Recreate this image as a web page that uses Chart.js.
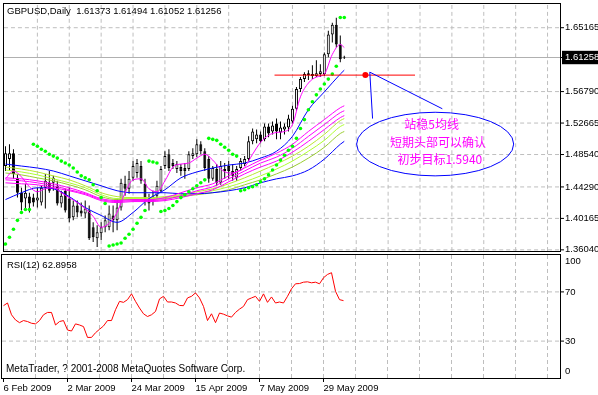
<!DOCTYPE html>
<html><head><meta charset="utf-8">
<script src="https://cdn.jsdelivr.net/npm/chart.js@4/dist/chart.umd.min.js"></script>
<style>
html,body{margin:0;padding:0;background:#fff;}
#wrap{position:relative;width:598px;height:395px;overflow:hidden;background:#fff;}
#c1{position:absolute;left:0;top:0;}
#c2{position:absolute;left:0;top:253px;}
</style></head><body>
<div id="wrap"><canvas id="c1" width="598" height="260"></canvas><canvas id="c2" width="598" height="142"></canvas></div>
<script>
// ---------------- data ----------------
const symbol = 'GBPUSD', period = 'Daily';
const opens  = [1.4703,1.4794,1.4871,1.4548,1.4353,1.4276,1.4302,1.4289,1.4250,1.4224,1.4418,1.4483,1.4483,1.4444,1.4211,1.4379,1.4276,1.4030,1.4185,1.4120,1.4081,1.4120,1.3900,1.3757,1.3822,1.3900,1.3900,1.4055,1.3991,1.4159,1.4470,1.4405,1.4548,1.4612,1.4703,1.4470,1.4276,1.4250,1.4314,1.4379,1.4703,1.4858,1.4742,1.4664,1.4690,1.4677,1.4664,1.4833,1.4858,1.4988,1.4897,1.4794,1.4535,1.4664,1.4483,1.4638,1.4703,1.4638,1.4548,1.4677,1.4729,1.4794,1.5027,1.5053,1.5118,1.5053,1.5221,1.5156,1.5260,1.5143,1.5182,1.5208,1.5286,1.5454,1.5713,1.5843,1.5921,1.5908,1.5882,1.5908,1.5908,1.6167,1.6426,1.6555,1.6296,1.61373];
const highs  = [1.4962,1.4988,1.4923,1.4600,1.4418,1.4470,1.4353,1.4340,1.4418,1.4444,1.4600,1.4638,1.4574,1.4509,1.4379,1.4405,1.4418,1.4250,1.4250,1.4224,1.4250,1.4185,1.3965,1.3926,1.3965,1.4055,1.4185,1.4185,1.4276,1.4535,1.4574,1.4638,1.4768,1.4794,1.4768,1.4535,1.4340,1.4379,1.4509,1.4703,1.4897,1.4923,1.4794,1.4768,1.4729,1.4742,1.4897,1.4936,1.5053,1.5027,1.4936,1.4833,1.4703,1.4729,1.4768,1.4742,1.4768,1.4729,1.4703,1.4807,1.4833,1.5092,1.5195,1.5182,1.5156,1.5260,1.5260,1.5286,1.5325,1.5286,1.5260,1.5377,1.5493,1.5739,1.5869,1.5934,1.5960,1.6024,1.6089,1.6037,1.6193,1.6478,1.6581,1.6646,1.6413,1.61494];
const lows   = [1.4638,1.4638,1.4535,1.4289,1.4120,1.4146,1.4094,1.4172,1.4159,1.4185,1.4146,1.4353,1.4379,1.4185,1.4159,1.4094,1.3965,1.3991,1.4030,1.4042,1.4017,1.3732,1.3706,1.3641,1.3732,1.3835,1.3861,1.3835,1.3861,1.4120,1.4314,1.4340,1.4509,1.4548,1.4470,1.4185,1.4120,1.4185,1.4276,1.4353,1.4664,1.4638,1.4664,1.4612,1.4574,1.4535,1.4638,1.4794,1.4820,1.4858,1.4638,1.4483,1.4509,1.4444,1.4457,1.4535,1.4535,1.4509,1.4509,1.4638,1.4703,1.4768,1.4988,1.5001,1.5001,1.5027,1.5079,1.5118,1.5053,1.5053,1.5118,1.5156,1.5260,1.5428,1.5675,1.5804,1.5830,1.5843,1.5869,1.5869,1.5882,1.6128,1.6322,1.6257,1.6063,1.61052];
const closes = [1.4871,1.4871,1.4600,1.4353,1.4224,1.4353,1.4211,1.4224,1.4289,1.4418,1.4509,1.4379,1.4548,1.4211,1.4314,1.4120,1.4017,1.4185,1.4094,1.4081,1.4146,1.3757,1.3770,1.3835,1.3900,1.3991,1.4081,1.3991,1.4159,1.4483,1.4405,1.4535,1.4703,1.4742,1.4509,1.4250,1.4211,1.4302,1.4444,1.4664,1.4833,1.4677,1.4703,1.4729,1.4638,1.4638,1.4858,1.4871,1.4988,1.4897,1.4677,1.4535,1.4677,1.4483,1.4703,1.4664,1.4638,1.4574,1.4664,1.4768,1.4794,1.5027,1.5156,1.5118,1.5027,1.5221,1.5130,1.5234,1.5156,1.5208,1.5221,1.5325,1.5454,1.5713,1.5843,1.5908,1.5895,1.5882,1.5921,1.5947,1.6167,1.6426,1.6555,1.6296,1.6102,1.61256];
const sar    = [1.3680,1.3770,1.3874,1.3991,1.4094,1.4133,1.4133,1.4988,1.4962,1.4923,1.4897,1.4858,1.4833,1.4807,1.4768,1.4742,1.4716,1.4677,1.4625,1.4574,1.4548,1.4522,1.4457,1.4379,1.4289,1.4211,1.3654,1.3667,1.3680,1.3693,1.3757,1.3809,1.3874,1.3952,1.4030,1.4120,1.4768,1.4755,1.4742,1.4107,1.4120,1.4146,1.4185,1.4237,1.4289,1.4327,1.4366,1.4405,1.4444,1.4483,1.4522,1.5066,1.5053,1.5040,1.4988,1.4949,1.4910,1.4858,1.4833,1.4379,1.4392,1.4418,1.4431,1.4457,1.4496,1.4535,1.4587,1.4651,1.4716,1.4781,1.4845,1.4910,1.4962,1.5066,1.5195,1.5312,1.5441,1.5545,1.5636,1.5713,1.5778,1.5843,1.5908,1.6011,1.6650,1.6650];

const maIdx2 = [0,2,4,6,8,10,12,14,16,18,20,22,24,26,28,30,32,34,36,38,40,42,44,46,48,50,52,54,56,58,60,62,64,66,68,70,72,74,76,78,80,82,84,85];
const maFast = [1.4535,1.4638,1.4561,1.4431,1.4366,1.4405,1.4418,1.4353,1.4289,1.4224,1.4146,1.4042,1.3900,1.3952,1.4094,1.4353,1.4522,1.4535,1.4405,1.4366,1.4509,1.4690,1.4729,1.4742,1.4807,1.4858,1.4781,1.4664,1.4612,1.4625,1.4690,1.4858,1.5014,1.5105,1.5143,1.5156,1.5247,1.5610,1.5791,1.5869,1.5908,1.6167,1.6296,1.6257];

const maIdx4 = [0,4,8,12,16,20,24,28,32,36,40,44,48,52,56,60,64,68,72,76,80,84,85];
const blueFast = [1.4263,1.4353,1.4418,1.4405,1.4302,1.4159,1.4055,1.3965,1.4094,1.4276,1.4392,1.4548,1.4625,1.4677,1.4716,1.4742,1.4807,1.4897,1.5092,1.5441,1.5675,1.5908,1.5960];
const blueSlow = [1.4729,1.4703,1.4677,1.4638,1.4574,1.4509,1.4444,1.4379,1.4353,1.4353,1.4353,1.4340,1.4340,1.4353,1.4379,1.4418,1.4483,1.4535,1.4574,1.4651,1.4794,1.4988,1.5027];
const magA = [1.4548,1.4535,1.4509,1.4470,1.4418,1.4353,1.4276,1.4250,1.4263,1.4263,1.4289,1.4353,1.4418,1.4470,1.4574,1.4677,1.4781,1.4871,1.4988,1.5156,1.5312,1.5467,1.5493];
const magB = [1.4522,1.4509,1.4483,1.4444,1.4392,1.4340,1.4263,1.4237,1.4250,1.4250,1.4263,1.4314,1.4379,1.4431,1.4535,1.4638,1.4742,1.4820,1.4936,1.5092,1.5247,1.5403,1.5428];
const magC = [1.4483,1.4470,1.4457,1.4418,1.4379,1.4327,1.4250,1.4224,1.4237,1.4237,1.4250,1.4289,1.4340,1.4392,1.4496,1.4600,1.4690,1.4768,1.4884,1.5027,1.5182,1.5338,1.5364];
const ygA  = [1.4690,1.4664,1.4625,1.4574,1.4522,1.4444,1.4353,1.4302,1.4289,1.4289,1.4302,1.4327,1.4366,1.4405,1.4470,1.4548,1.4638,1.4729,1.4833,1.4962,1.5118,1.5299,1.5325];
const ygB  = [1.4651,1.4625,1.4587,1.4535,1.4483,1.4418,1.4327,1.4276,1.4276,1.4276,1.4289,1.4314,1.4340,1.4379,1.4431,1.4496,1.4574,1.4664,1.4768,1.4897,1.5040,1.5221,1.5247];
const ygC  = [1.4612,1.4587,1.4548,1.4509,1.4457,1.4392,1.4302,1.4263,1.4263,1.4263,1.4276,1.4302,1.4327,1.4353,1.4392,1.4457,1.4522,1.4600,1.4690,1.4807,1.4949,1.5130,1.5156];

const rsi = [58.8,61.0,51.4,47.2,45.0,46.7,45.9,44.5,44.0,46.7,51.4,53.3,53.3,43.1,45.9,46.7,39.0,38.2,44.0,43.1,41.8,33.0,33.0,36.8,39.6,42.3,46.7,46.7,55.5,62.3,61.5,63.7,68.4,62.3,56.9,52.2,50.0,51.4,54.1,64.3,66.4,61.8,61.8,61.0,59.0,58.8,65.1,66.4,69.2,65.1,58.2,46.7,52.2,45.0,52.8,51.9,50.5,49.5,53.3,56.0,58.2,63.7,65.1,66.4,62.3,68.4,61.5,65.9,61.0,61.8,61.0,66.4,72.5,76.6,76.8,77.9,78.2,77.4,77.9,76.6,81.5,84.2,85.6,70.5,63.7,62.9];
const rsiLabel = 'RSI(12) 62.8958';

const priceTicks = [1.36040,1.40165,1.44290,1.48540,1.52665,1.56790,1.61258,1.65165];
const bidPrice = 1.61258;
const rsiTicks = [0,30,70,100];
const tickIndex = [0,16,32,48,64,80];
const tickLabels = ['6 Feb 2009','2 Mar 2009','24 Mar 2009','15 Apr 2009','7 May 2009','29 May 2009'];

// hand-drawn annotations (data coordinates: bar index, price)
const targetPrice = 1.5895;
const targetLineX = [67.5, 102.75];
const targetDotX = 90.3;
const calloutX = [92.1, 91.4, 109.6];
const calloutY = [1.5325, 1.5934, 1.5454];
const noteCenter = [107.8, 1.4991];
const noteRadius = [19.7, 0.0417];
const noteLines = ['站稳5均线','短期头部可以确认','初步目标1.5940'];
const noteX = [106.9, 108.5, 109.0];
const noteY = [1.5243, 1.5014, 1.4790];
const copyright = 'MetaTrader, ? 2001-2008 MetaQuotes Software Corp.';

// ---------------- chart ----------------
const FONT = '"Liberation Sans", Arial, sans-serif';
const X_MIN = -0.375, X_MAX = 139.125;
const P_MIN = 1.35890, P_MAX = 1.68274;
const gridIdx = []; for (let k = 0; k <= 136; k += 8) gridIdx.push(k);
const T = 'rgba(0,0,0,0)';
const GRID = '#BEBEBE';

function xAxis(showLabels, h) {
  return {
    type: 'linear', min: X_MIN, max: X_MAX, offset: false,
    afterBuildTicks: a => { a.ticks = gridIdx.map(v => ({ value: v })); },
    afterFit: s => { s.height = h; s.paddingLeft = 0; s.paddingRight = 0; },
    grid: { display: true, drawOnChartArea: false, drawTicks: showLabels, tickLength: 4, tickColor: T, color: T, offset: false },
    border: { display: false },
    ticks: {
      display: showLabels, autoSkip: false, maxRotation: 0, minRotation: 0,
      align: 'start', padding: 1, color: '#000', font: { family: FONT, size: 9.5 },
      callback: v => { const k = tickIndex.indexOf(v); return k >= 0 ? tickLabels[k] : ''; }
    }
  };
}

// a dashed rule expressed as short solid pieces separated by gaps (null points)
function dashPts(fixed, from, to, on, off, vertical) {
  const pts = [];
  for (let d = from; d < to; d += on + off) {
    const e = Math.min(d + on, to);
    const m = Math.min(e + off / 2, to);
    if (vertical) pts.push({ x: fixed, y: d }, { x: fixed, y: e }, { x: fixed, y: null });
    else pts.push({ x: d, y: fixed }, { x: e, y: fixed }, { x: m, y: null });
  }
  return pts;
}
const seg = (pts, color, extra) => Object.assign({
  type: 'line', data: pts, borderColor: color, borderWidth: 1,
  pointRadius: 0, fill: false, tension: 0, spanGaps: false, order: 30
}, extra || {});
// pxPerY: pixels per y-unit of the panel, so dashes are 4px on / 3px off
function gridSets(yVals, yLo, yHi, pxPerY, markVals, xMarks) {
  const out = [];
  gridIdx.filter(v => v !== 0).forEach(v => out.push(seg(dashPts(v, yLo, yHi, 4 / pxPerY, 3 / pxPerY, true), GRID)));
  yVals.forEach(p => out.push(seg(dashPts(p, X_MIN, X_MAX, 1, 0.75, false), GRID)));
  markVals.forEach(p => out.push(seg([{ x: X_MAX, y: p }, { x: X_MAX + 1, y: p }], '#000', { clip: false })));
  if (xMarks) tickIndex.forEach(v => out.push(seg([{ x: v, y: yLo }, { x: v, y: yLo - 4 / pxPerY }], '#000', { clip: false })));
  return out;
}

const framePlugin = {
  id: 'frame',
  afterDraw(chart) {
    const { ctx, chartArea: a } = chart;
    ctx.save();
    ctx.strokeStyle = '#000'; ctx.lineWidth = 1;
    ctx.strokeRect(a.left - 0.5, a.top - 0.5, a.right - a.left + 1, a.bottom - a.top + 1);
    ctx.restore();
  }
};

const notesPlugin = {
  id: 'notes',
  afterDatasetsDraw(chart) {
    const { ctx } = chart; const xs = chart.scales.x, ys = chart.scales.y;
    ctx.save();
    const cx = xs.getPixelForValue(noteCenter[0]), cy = ys.getPixelForValue(noteCenter[1]);
    const rx = xs.getPixelForValue(noteCenter[0] + noteRadius[0]) - cx;
    const ry = ys.getPixelForValue(noteCenter[1] - noteRadius[1]) - cy;
    ctx.strokeStyle = '#0000FF'; ctx.lineWidth = 1;
    ctx.beginPath(); ctx.ellipse(cx, cy, rx, ry, 0, 0, Math.PI * 2); ctx.stroke();
    ctx.fillStyle = '#FF00FF';
    ctx.font = '12px "Noto Sans CJK SC", sans-serif';
    ctx.textAlign = 'center'; ctx.textBaseline = 'middle';
    noteLines.forEach((t, k) => ctx.fillText(t, xs.getPixelForValue(noteX[k]), ys.getPixelForValue(noteY[k])));
    ctx.restore();
  },
  afterDraw(chart) {
    const { ctx } = chart;
    ctx.save();
    ctx.fillStyle = '#000'; ctx.font = '9.5px ' + FONT;
    ctx.textAlign = 'left'; ctx.textBaseline = 'middle';
    const n = closes.length - 1;
    const f = v => v.toFixed(5);
    ctx.fillText(symbol + ',' + period + '  ' + f(opens[n]) + ' ' + f(highs[n]) + ' ' + f(lows[n]) + ' ' + f(closes[n]), 7, 11);
    ctx.restore();
  }
};

const rsiTextPlugin = {
  id: 'rsiText',
  afterDraw(chart) {
    const { ctx } = chart;
    ctx.save();
    ctx.fillStyle = '#000'; ctx.textAlign = 'left'; ctx.textBaseline = 'middle';
    ctx.font = '9.5px ' + FONT;
    ctx.fillText(rsiLabel, 7, 12);
    ctx.font = '10px ' + FONT;
    ctx.fillText(copyright, 6, 116);
    ctx.restore();
  }
};

const idx = closes.map((_, i) => i);
const line = (xsArr, vals, color, order, tension) => ({
  type: 'line', data: xsArr.map((x, k) => ({ x, y: vals[k] })),
  borderColor: color, borderWidth: 1, pointRadius: 0, fill: false,
  tension: tension, cubicInterpolationMode: 'monotone', order
});

new Chart(document.getElementById('c1'), {
  type: 'bar',
  data: {
    datasets: [
      ...gridSets(priceTicks.filter(v => v !== bidPrice), P_MIN, P_MAX, 250 / (P_MAX - P_MIN), priceTicks, false),
      { type: 'line', data: [{ x: X_MIN, y: bidPrice }, { x: X_MAX, y: bidPrice }], borderColor: '#B0B0B0', borderWidth: 1, pointRadius: 0, order: 20 },
      { type: 'bar', data: idx.map(i => ({ x: i, y: [lows[i], highs[i]] })), backgroundColor: '#000', borderWidth: 0, barThickness: 1, grouped: false, inflateAmount: 0, order: 12 },
      { type: 'bar', data: idx.map(i => ({ x: i, y: [opens[i], closes[i]] })),
        backgroundColor: idx.map(i => closes[i] >= opens[i] ? '#FFFFFF' : '#000000'),
        borderColor: '#000', borderWidth: 1, borderSkipped: false, barThickness: 3, grouped: false, inflateAmount: 0, order: 11 },
      line(maIdx4, blueSlow, '#0000FF', 6, 0.3),
      line(maIdx4, ygC, '#9ACD32', 6, 0.3),
      line(maIdx4, ygB, '#ADFF2F', 6, 0.3),
      line(maIdx4, ygA, '#B8E830', 6, 0.3),
      line(maIdx4, magC, '#FF00FF', 5, 0.3),
      line(maIdx4, magB, '#FF00FF', 5, 0.3),
      line(maIdx4, magA, '#FF00FF', 5, 0.3),
      line(maIdx4, blueFast, '#0000FF', 5, 0.3),
      line(maIdx2, maFast, '#FF00FF', 4, 0.25),
      { type: 'line', data: idx.map(i => ({ x: i, y: sar[i] })), showLine: false, pointRadius: 1.8, pointStyle: 'circle', backgroundColor: '#00FF00', borderColor: '#00FF00', borderWidth: 0, order: 3 },
      { type: 'line', data: targetLineX.map(x => ({ x, y: targetPrice })), borderColor: '#FF0000', borderWidth: 1, pointRadius: 0, order: 2 },
      { type: 'line', data: [{ x: targetDotX, y: targetPrice }], showLine: false, pointRadius: 3, backgroundColor: '#FF0000', borderColor: '#FF0000', borderWidth: 0, order: 1 },
      { type: 'line', data: calloutX.map((x, k) => ({ x, y: calloutY[k] })), borderColor: '#0000FF', borderWidth: 1, pointRadius: 0, tension: 0, order: 1 }
    ]
  },
  options: {
    responsive: false, animation: false, events: [],
    layout: { padding: { left: 2, top: 1, right: 0, bottom: 0 } },
    plugins: { legend: { display: false }, tooltip: { enabled: false } },
    scales: {
      x: xAxis(false, 9),
      y: {
        position: 'right', min: P_MIN, max: P_MAX,
        afterBuildTicks: a => { a.ticks = priceTicks.map(v => ({ value: v })); },
        afterFit: s => { s.width = 38; s.paddingTop = 0; s.paddingBottom = 0; },
        grid: { display: true, drawOnChartArea: false, drawTicks: true, tickLength: 3, tickColor: T, color: T },
        border: { display: false },
        ticks: {
          padding: 2, font: { family: FONT, size: 9.5 },
          color: c => (c.tick && c.tick.value === bidPrice) ? '#FFFFFF' : '#000000',
          showLabelBackdrop: c => !!(c.tick && c.tick.value === bidPrice),
          backdropColor: '#000', backdropPadding: { left: 3, right: 10, top: 1, bottom: 1 },
          callback: v => v.toFixed(5)
        }
      }
    }
  },
  plugins: [framePlugin, notesPlugin]
});

new Chart(document.getElementById('c2'), {
  type: 'line',
  data: { datasets: [
    ...gridSets([30, 70], 0, 100, 1.23, [30, 70], true),
    { data: idx.map(i => ({ x: i, y: rsi[i] })), borderColor: '#FF0000', borderWidth: 1, pointRadius: 0, tension: 0, fill: false, order: 1 }
  ] },
  options: {
    responsive: false, animation: false, events: [],
    layout: { padding: { left: 2, top: 2, right: 0, bottom: 0 } },
    plugins: { legend: { display: false }, tooltip: { enabled: false } },
    scales: {
      x: xAxis(true, 17),
      y: {
        position: 'right', min: 0, max: 100,
        afterBuildTicks: a => { a.ticks = rsiTicks.map(v => ({ value: v === 100 ? 95 : (v === 0 ? 5 : v) })); },
        afterFit: s => { s.width = 38; s.paddingTop = 0; s.paddingBottom = 0; },
        grid: { display: true, drawOnChartArea: false, drawTicks: true, tickLength: 3, tickColor: T, color: T },
        border: { display: false },
        ticks: {
          padding: 2, color: '#000', font: { family: FONT, size: 9.5 },
          callback: v => v === 95 ? '100' : (v === 5 ? '0' : String(v))
        }
      }
    }
  },
  plugins: [framePlugin, rsiTextPlugin]
});
</script>
</body></html>
